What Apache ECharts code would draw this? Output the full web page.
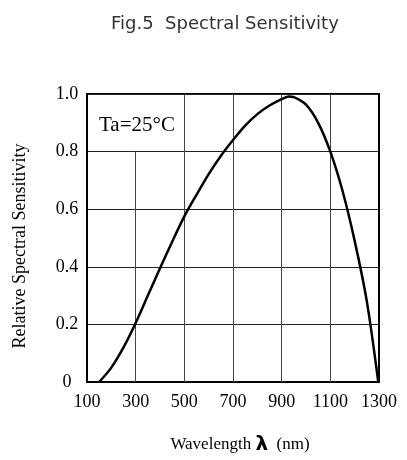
<!DOCTYPE html>
<html>
<head>
<meta charset="utf-8">
<script src="https://cdn.jsdelivr.net/npm/echarts@6/dist/echarts.min.js"></script>
<style>html,body{margin:0;padding:0;background:#fff;}#c{width:407px;height:460px;}</style>
</head>
<body>
<div id="c"></div>
<script>
var wavelength = [150,200,250,300,350,400,450,500,550,600,650,700,750,800,850,900,930,950,1000,1050,1100,1150,1200,1250,1297];
var sensitivity = [0,0.05,0.12,0.205,0.30,0.395,0.487,0.575,0.65,0.722,0.785,0.84,0.89,0.93,0.96,0.982,0.991,0.989,0.963,0.90,0.80,0.664,0.49,0.28,0];
var xTicks = [100,300,500,700,900,1100,1300];
var yTicks = [0,0.2,0.4,0.6,0.8,1.0];
var gridX = [300,500,700,900,1100];
var gridXTop = [0.8,1.0,1.0,1.0,1.0];

var serif = '"Liberation Serif","Times New Roman",serif';
var chart = echarts.init(document.getElementById('c'));
var pts = wavelength.map(function(w,i){return [w, sensitivity[i]];});
var vLines = gridX.map(function(x,i){return [{coord:[x,0]},{coord:[x,gridXTop[i]]}];});

chart.setOption({
  animation:false,
  backgroundColor:'#fff',
  title:{
    text:'Fig.5  Spectral Sensitivity',
    left:106, top:10,
    textStyle:{fontFamily:'"DejaVu Sans",sans-serif',fontSize:18,fontWeight:'normal',color:'#333'}
  },
  grid:{left:87,right:28,top:94,bottom:74,show:true,borderColor:'#000',borderWidth:2,backgroundColor:'transparent'},
  xAxis:{
    type:'value',min:xTicks[0],max:xTicks[xTicks.length-1],interval:xTicks[1]-xTicks[0],
    axisLine:{show:true,lineStyle:{color:'#000',width:2}},
    axisTick:{show:false},
    splitLine:{show:false},
    axisLabel:{color:'#000',fontFamily:serif,fontSize:18,margin:11,formatter:function(v){return String(v);}},
    name:'{a|Wavelength }{b|λ}{a|  (nm)}',
    nameLocation:'middle',nameGap:53,
    nameTextStyle:{padding:[0,0,0,14],rich:{a:{fontFamily:serif,fontSize:17,color:'#000'},b:{fontFamily:'"DejaVu Sans",sans-serif',fontSize:20,fontWeight:'bold',color:'#000'}}}
  },
  yAxis:{
    type:'value',min:yTicks[0],max:yTicks[yTicks.length-1],interval:yTicks[1]-yTicks[0],
    axisLine:{show:true,lineStyle:{color:'#000',width:2}},
    axisTick:{show:false},
    splitLine:{show:true,lineStyle:{color:'#222',width:1}},
    axisLabel:{color:'#000',fontFamily:serif,fontSize:18,margin:20,align:'center',
      formatter:function(v){return v===0?'0':v.toFixed(1);}},
    name:'Relative Spectral Sensitivity',
    nameLocation:'middle',nameGap:58,
    nameTextStyle:{fontFamily:serif,fontSize:18,color:'#000',padding:[0,16,0,0]}
  },
  graphic:[{
    type:'text',left:99,top:115,
    style:{text:'Ta=25°C',font:'21px "Liberation Serif", serif',fill:'#000'}
  }],
  series:[{
    type:'line',data:pts,smooth:0.3,symbol:'none',
    lineStyle:{color:'#000',width:2.5},
    z:5,
    markLine:{silent:true,symbol:['none','none'],label:{show:false},
      lineStyle:{color:'#444',width:1,type:'solid'},
      emphasis:{disabled:true},
      data:vLines}
  }]
});
</script>
</body>
</html>
